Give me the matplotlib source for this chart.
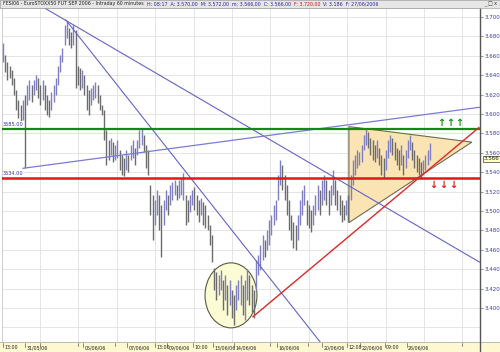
import numpy as np
import matplotlib.pyplot as plt
from matplotlib.patches import Ellipse, Polygon

# hourly bars, FESX Sep 2006
highs = [3673, 3661, 3654, 3650, 3645, 3637, 3625, 3614, 3609, 3614,
         3620, 3630, 3635, 3630, 3635, 3640, 3637, 3630, 3635, 3630,
         3620, 3614, 3623, 3630, 3637, 3650, 3661, 3668, 3692, 3695,
         3689, 3685, 3692, 3687, 3650, 3647, 3645, 3640, 3630, 3625,
         3627, 3630, 3633, 3630, 3620, 3609, 3604, 3583, 3573, 3575,
         3571, 3568, 3573, 3563, 3558, 3555, 3563, 3558, 3568, 3573,
         3565, 3573, 3583, 3585, 3578, 3568, 3563, 3527, 3516, 3511,
         3522, 3516, 3506, 3511, 3522, 3516, 3527, 3530, 3532, 3527,
         3532, 3534, 3539, 3516, 3511, 3516, 3522, 3525, 3516, 3511,
         3513, 3509, 3506, 3496, 3486, 3475, 3441, 3437, 3434, 3439,
         3429, 3434, 3424, 3429, 3419, 3413, 3424, 3429, 3434, 3424,
         3429, 3439, 3434, 3424, 3419, 3449, 3455, 3465, 3475, 3470,
         3480, 3491, 3496, 3506, 3511, 3537, 3553, 3547, 3537, 3527,
         3511, 3496, 3489, 3486, 3496, 3511, 3522, 3527, 3511, 3506,
         3501, 3506, 3516, 3527, 3522, 3532, 3537, 3532, 3522, 3527,
         3542, 3532, 3522, 3516, 3511, 3506, 3511, 3516, 3537, 3553,
         3558, 3563, 3561, 3568, 3578, 3585, 3581, 3575, 3573, 3568,
         3573, 3565, 3558, 3555, 3563, 3573, 3578, 3575, 3571, 3565,
         3563, 3568, 3558, 3563, 3573, 3578, 3571, 3563, 3558, 3555,
         3550, 3553, 3558, 3563, 3570]
lows = [3654, 3643, 3635, 3637, 3630, 3620, 3604, 3596, 3592, 3594,
        3544, 3609, 3614, 3612, 3620, 3625, 3616, 3609, 3614, 3604,
        3599, 3597, 3604, 3612, 3620, 3630, 3643, 3654, 3671, 3678,
        3671, 3668, 3671, 3627, 3630, 3625, 3627, 3620, 3604, 3599,
        3609, 3614, 3616, 3611, 3604, 3599, 3573, 3547, 3553, 3558,
        3550, 3553, 3555, 3542, 3537, 3536, 3542, 3540, 3553, 3555,
        3547, 3558, 3565, 3568, 3561, 3544, 3537, 3496, 3470, 3486,
        3496, 3480, 3453, 3486, 3501, 3496, 3506, 3511, 3516, 3511,
        3513, 3516, 3511, 3486, 3489, 3499, 3506, 3501, 3496, 3489,
        3496, 3486, 3482, 3480, 3465, 3447, 3419, 3408, 3413, 3419,
        3398, 3408, 3393, 3403, 3390, 3382, 3398, 3408, 3403, 3393,
        3388, 3408, 3403, 3396, 3390, 3419, 3434, 3439, 3449, 3453,
        3460, 3465, 3475, 3486, 3491, 3511, 3527, 3522, 3511, 3496,
        3480, 3470, 3462, 3460, 3470, 3486, 3496, 3506, 3486, 3482,
        3478, 3486, 3496, 3501, 3496, 3506, 3511, 3506, 3496, 3506,
        3516, 3506, 3501, 3496, 3489, 3491, 3496, 3489, 3511, 3527,
        3537, 3544, 3547, 3550, 3563, 3568, 3565, 3558, 3553, 3550,
        3555, 3547, 3537, 3534, 3542, 3555, 3561, 3558, 3553, 3547,
        3542, 3547, 3537, 3544, 3555, 3563, 3553, 3544, 3540, 3537,
        3534, 3537, 3542, 3547, 3553]

support = 3534
resistance = 3585
last_price = 3566

# trend lines as (bar, price) pairs
line_a = ([17.3, 217.3], [3712, 3447])
line_b = ([29.0, 146.0], [3697, 3361])
line_c = ([9.5, 217.3], [3544, 3607])
red_trend = ([114.1, 216.8], [3391, 3586])
triangle = [(157.7, 3587), (157.7, 3488), (213.6, 3571)]
circle_xy = (104.1, 3413)

date_pos = [0.5, 10.5, 36.8, 56.8, 69.5, 75.0, 86.8, 95.9, 105.5, 125.0,
            145.5, 156.8, 162.7, 174.0, 184.0]
date_labels = ['13:00', '31/05/06', '05/06/06', '07/06/06', '13:00', '09/06/06',
               '10:00', '13/06/06', '14/06/06', '16/06/06', '20/06/06', '12:00',
               '22/06/06', '09:00', '26/06/06']

header_parts = [('FESI06 - EuroSTOXX50 FUT SEP 2006 - Intraday 60 minutes', '#202020'),
                ('H: 08:17  A: 3.570,00  M: 3.572,00  m: 3.566,00  C: 3.566,00', '#2828a0'),
                ('F: 3.720,00', '#d01010'),
                ('V: 3.186  F: 27/06/2006', '#2828a0')]

W, H = 500, 352
fig = plt.figure(figsize=(W / 100, H / 100), dpi=100)
fig.patch.set_facecolor('white')

x0, x1 = 0, 217.3
y0, y1 = 3364.9, 3709.3

ax = fig.add_axes([2 / W, 10 / H, 478 / W, 334 / H])
ax.set_xlim(x0, x1)
ax.set_ylim(y0, y1)

# grid
for gx in np.arange(17.3, x1, 17.45):
    ax.axvline(gx, color='#e0e0e0', lw=0.6, zorder=0)
for gy in range(3380, 3710, 20):
    ax.axhline(gy, color='#e0e0e0', lw=0.6, zorder=0)

# triangle and circle
ax.add_patch(Polygon(triangle, closed=True, facecolor='#fbe4b4', edgecolor='#6f6a50',
                     lw=0.8, zorder=1))
ax.add_patch(Ellipse(circle_xy, 23.6, 67, facecolor='#fbfbd4', edgecolor='#5a5a40',
                     lw=0.8, zorder=1))

# bars
highs = np.array(highs)
lows = np.array(lows)
idx = np.arange(len(highs)) + 0.5
mid = (highs + lows) / 2
up = np.r_[True, mid[1:] >= mid[:-1]]
cols = np.where(up, '#7f7fc4', '#6c6c6c')
ax.vlines(idx, lows, highs, colors=cols, lw=1.0, zorder=3)

# lines
ax.plot(*line_a, color='#6464c8', lw=0.8, zorder=4)
ax.plot(*line_b, color='#6464c8', lw=0.8, zorder=4)
ax.plot(*line_c, color='#7a7ad8', lw=0.9, zorder=4)
ax.axhline(resistance, color='#118a11', lw=1.6, zorder=5)
ax.axhline(support, color='#e01818', lw=1.8, zorder=5)
ax.plot(*red_trend, color='#e02828', lw=1.0, zorder=5)

ax.text(0.5, resistance + 2, '3585.00', fontsize=3.6, color='#3030a0',
        va='bottom', ha='left', zorder=6,
        bbox=dict(facecolor='white', edgecolor='none', pad=0.3))
ax.text(0.5, support + 2, '3534.00', fontsize=3.6, color='#3030a0',
        va='bottom', ha='left', zorder=6,
        bbox=dict(facecolor='white', edgecolor='none', pad=0.3))

# arrows
for bx in [199.5, 203.6, 207.7]:
    ax.text(bx, 3591, '↑', color='#0f8f0f', fontsize=7, fontweight='bold',
            ha='center', va='center', zorder=6)
for bx in [195.9, 200.5, 205.0]:
    ax.text(bx, 3527, '↓', color='#e01818', fontsize=7, fontweight='bold',
            ha='center', va='center', zorder=6)

# axes styling
ax.set_xticks([])
ax.yaxis.tick_right()
ticks = list(range(3400, 3701, 20))
ax.set_yticks(ticks)
ax.set_yticklabels([f'{t / 1000:.3f}' for t in ticks])
ax.tick_params(axis='y', labelsize=4, colors='#707070', labelcolor='#3a3aa0',
               length=2, pad=1, width=0.5)
for s in ['left', 'top', 'bottom']:
    ax.spines[s].set_color('#c8c8c8')
    ax.spines[s].set_linewidth(0.6)
ax.spines['right'].set_color('#555555')
ax.spines['right'].set_linewidth(1.0)

# last price box
ax.text(1.008, (last_price - 12 - y0) / (y1 - y0), f'{last_price / 1000:.3f}',
        transform=ax.transAxes, fontsize=4, color='#202020', va='center', ha='left',
        zorder=7, clip_on=False,
        bbox=dict(facecolor='#ffffc8', edgecolor='#404040', lw=0.5, pad=0.4))

# bottom date strip
axd = fig.add_axes([0, 0, 1, 10 / H])
axd.set_facecolor('#fdf8cf')
axd.set_xlim(x0 - 2 / 2.2, x0 + 500 / 2.2 - 2 / 2.2)
axd.set_ylim(0, 1)
axd.set_xticks([])
axd.set_yticks([])
for s in axd.spines.values():
    s.set_visible(False)
axd.axhline(1, color='#b0b0b0', lw=0.6)
axd.axvline(x1, color='#555555', lw=1.0)
for p, lab in zip(date_pos, date_labels):
    axd.plot([p, p], [0.55, 0.9], color='#333333', lw=0.4)
    axd.text(p + 0.6, 0.45, lab, fontsize=3.4, color='#222222', va='center', ha='left')
for p in [17.3, 34.5, 51.4, 121.8, 139.0, 209.0]:
    axd.plot([p, p], [0.6, 0.9], color='#333333', lw=0.4)

# title bar
axt = fig.add_axes([0, 344 / H, 1, 8 / H])
axt.set_facecolor('#e6e6e6')
axt.set_xlim(0, W)
axt.set_ylim(0, 1)
axt.set_xticks([])
axt.set_yticks([])
for s in axt.spines.values():
    s.set_color('#a0a0a0')
    s.set_linewidth(0.5)
renderer = fig.canvas.get_renderer()
hx = 3
for txt, col in header_parts:
    t = axt.text(hx, 0.5, txt, fontsize=3.4, color=col, va='center', ha='left')
    hx = t.get_window_extent(renderer).x1 + 3
axt.text(497, 0.5, '_ □ x', fontsize=3.5, color='#333333', va='center', ha='right')

fig.savefig('out.png', dpi=100)
